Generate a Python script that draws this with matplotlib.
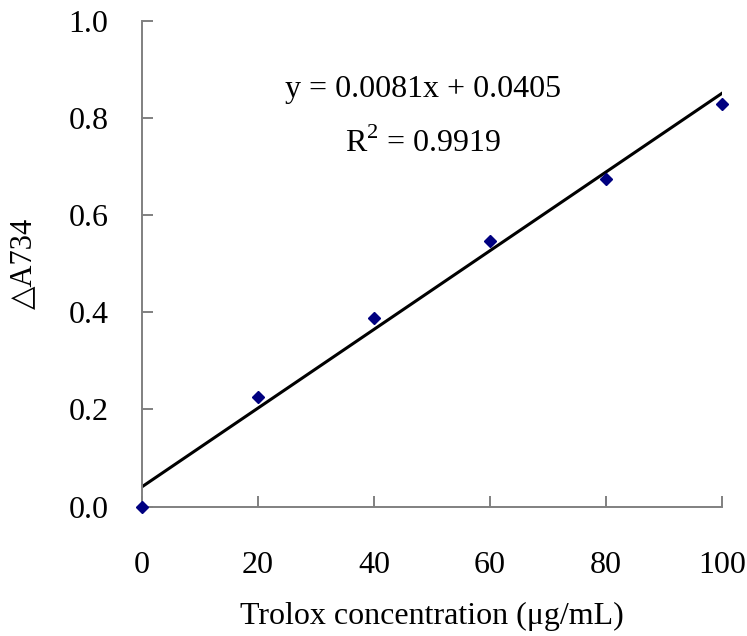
import matplotlib.pyplot as plt
import numpy as np

# data
conc = np.array([0, 20, 40, 60, 80, 100])  # ug/mL
absorb = np.array([0.0, 0.226, 0.388, 0.547, 0.674, 0.829])
slope = 0.0081
intercept = 0.0405
r2 = 0.9919

plt.rcParams['font.family'] = ['Liberation Serif', 'DejaVu Sans']
plt.rcParams['mathtext.fontset'] = 'custom'
plt.rcParams['mathtext.rm'] = 'Liberation Serif'

fig = plt.figure(figsize=(7.47, 6.36), dpi=100)
ax = fig.add_axes([0.190, 0.2036, 0.7765, 0.7639])

xfit = np.array([conc.min(), conc.max()])
ax.plot(xfit, slope * xfit + intercept, color='black', lw=2.2, zorder=2)
ax.plot(conc, absorb, 'D', color='#000080', ms=6.5, zorder=3, clip_on=False)

ax.set_xlim(0, 100)
ax.set_ylim(0, 1.0)
ax.set_xticks(np.arange(0, 101, 20))
ax.set_yticks(np.arange(0, 1.01, 0.2))
ax.set_yticklabels([f"{v:.1f}" for v in np.arange(0, 1.01, 0.2)])

for s in ['top', 'right']:
    ax.spines[s].set_visible(False)
for s in ['left', 'bottom']:
    ax.spines[s].set_color('#808080')
    ax.spines[s].set_linewidth(1.4)

ax.tick_params(axis='both', direction='in', color='#808080', width=1.4,
               length=8, labelsize=23)
ax.tick_params(axis='x', pad=32)
ax.tick_params(axis='y', pad=24)

ax.set_xlabel('Trolox concentration (μg/mL)', fontsize=23, labelpad=16)
ax.set_ylabel('△A734', fontsize=22, labelpad=22)

ax.text(0.485, 0.858, f'y = {slope}x + {intercept}', transform=ax.transAxes,
        ha='center', va='center', fontsize=23)
ax.text(0.485, 0.748, f'R$^\\mathrm{{2}}$ = {r2}', transform=ax.transAxes,
        ha='center', va='center', fontsize=23)

fig.savefig('out.png', dpi=100)
